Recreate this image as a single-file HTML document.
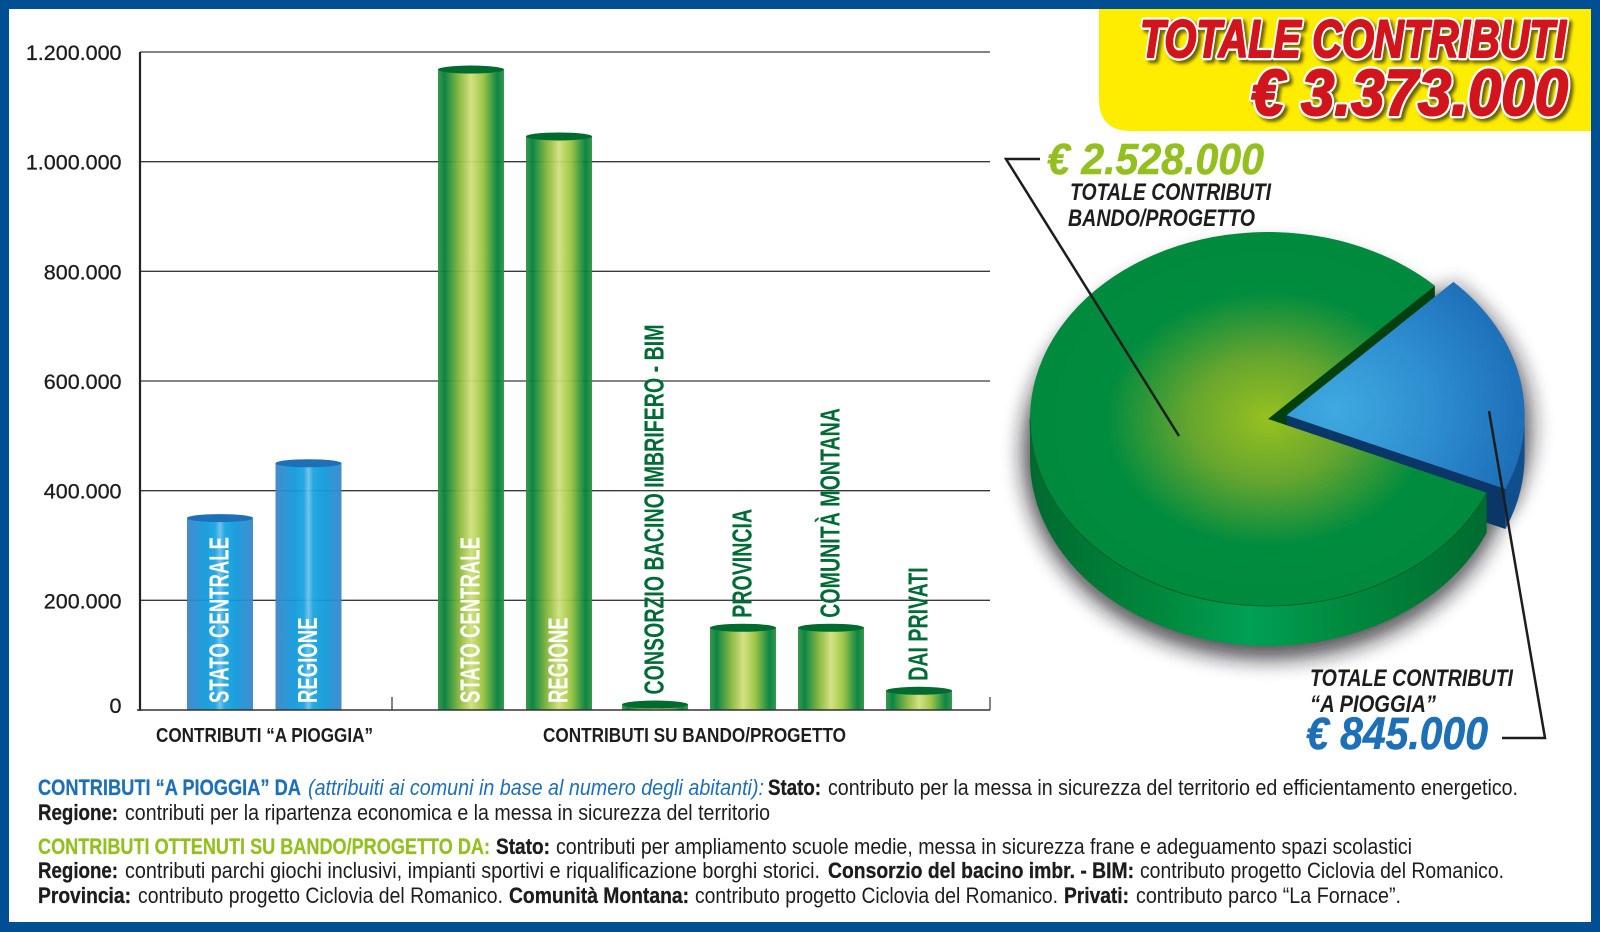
<!DOCTYPE html>
<html lang="it">
<head>
<meta charset="utf-8">
<title>Totale contributi</title>
<style>
html,body{margin:0;padding:0;background:#fff;width:1600px;height:932px;overflow:hidden}
svg{display:block;font-family:"Liberation Sans",Arial,sans-serif}
.b{font-weight:700}
.foot{font-size:22.5px;fill:#1d1d1b}
.foot .b{stroke:currentColor;stroke-width:.25}
</style>
</head>
<body>
<svg id="chart" xmlns="http://www.w3.org/2000/svg" width="1600" height="932" viewBox="0 0 1600 932">
<defs>
<linearGradient id="blueBar" x1="0" x2="1" y1="0" y2="0">
<stop offset="0" stop-color="#3b86cb"/><stop offset=".3" stop-color="#0f9bdc"/><stop offset=".43" stop-color="#1ba4e0"/><stop offset=".5" stop-color="#6cc0ea"/><stop offset=".57" stop-color="#1ba4e0"/><stop offset=".72" stop-color="#0f9bdc"/><stop offset="1" stop-color="#3b86cb"/>
</linearGradient>
<linearGradient id="greenBar" x1="0" x2="1" y1="0" y2="0">
<stop offset="0" stop-color="#2f9440"/><stop offset=".1" stop-color="#007f3c"/><stop offset=".32" stop-color="#86b63a"/><stop offset=".5" stop-color="#cfe07c"/><stop offset=".68" stop-color="#9cc43e"/><stop offset=".9" stop-color="#007f3c"/><stop offset="1" stop-color="#2f9440"/>
</linearGradient>
<radialGradient id="greenTop" gradientUnits="userSpaceOnUse" cx="0" cy="0" r="1" gradientTransform="translate(1268 419) scale(238 187)">
<stop offset="0" stop-color="#97c11f"/><stop offset=".33" stop-color="#66a52f"/><stop offset=".68" stop-color="#008c3f"/><stop offset="1" stop-color="#008a3e"/>
</radialGradient>
<radialGradient id="blueTop" gradientUnits="userSpaceOnUse" cx="0" cy="0" r="1" gradientTransform="translate(1335 410) scale(190 170)">
<stop offset="0" stop-color="#3fa9e0"/><stop offset=".5" stop-color="#2f8fd0"/><stop offset="1" stop-color="#1d6fb8"/>
</radialGradient>
<linearGradient id="greenWall" gradientUnits="userSpaceOnUse" x1="1030" x2="1490" y1="0" y2="0">
<stop offset="0" stop-color="#006a2e"/><stop offset=".3" stop-color="#008a3e"/><stop offset=".48" stop-color="#00a055"/><stop offset=".68" stop-color="#008a3e"/><stop offset="1" stop-color="#006a2e"/>
</linearGradient>
<filter id="pieBlur" filterUnits="userSpaceOnUse" x="950" y="180" width="650" height="540"><feGaussianBlur stdDeviation="10"/></filter>
<filter id="titleShadow" x="-5%" y="-20%" width="110%" height="150%"><feDropShadow dx="3" dy="3" stdDeviation="1.5" flood-color="#5b5200" flood-opacity=".9"/></filter>
</defs>

<rect width="1600" height="932" fill="#004f93"/>
<rect x="9" y="9" width="1582" height="913" fill="#fff"/>
<path d="M1099 9H1591V131H1131Q1099 131 1099 99Z" fill="#ffed00"/>

<g id="bars"></g>
<g id="pie"></g>

<g filter="url(#titleShadow)" font-weight="700" font-style="italic" fill="#fff" stroke="#fff" stroke-width="6.5" stroke-linejoin="round">
<text x="1140" y="57" font-size="53" textLength="426" lengthAdjust="spacingAndGlyphs">TOTALE CONTRIBUTI</text>
<text x="1251" y="115" font-size="65" textLength="317" lengthAdjust="spacingAndGlyphs">€ 3.373.000</text>
</g>
<g font-weight="700" font-style="italic" fill="#d2141c" stroke="#d2141c" stroke-width="2" stroke-linejoin="round">
<text x="1140" y="57" font-size="53" textLength="426" lengthAdjust="spacingAndGlyphs">TOTALE CONTRIBUTI</text>
<text x="1251" y="115" font-size="65" textLength="317" lengthAdjust="spacingAndGlyphs">€ 3.373.000</text>
</g>

<path d="M1040 159H1006L1179 436" fill="none" stroke="#1d1d1b" stroke-width="2.5"/>
<path d="M1489 411L1545 738H1502" fill="none" stroke="#1d1d1b" stroke-width="2.5"/>

<text class="b" font-style="italic" x="1047" y="174" font-size="44" fill="#93c01f" stroke="#93c01f" stroke-width=".6" textLength="217" lengthAdjust="spacingAndGlyphs">€ 2.528.000</text>
<text class="b" font-style="italic" x="1070" y="200" font-size="24" fill="#1d1d1b" textLength="201" lengthAdjust="spacingAndGlyphs">TOTALE CONTRIBUTI</text>
<text class="b" font-style="italic" x="1068" y="226" font-size="24" fill="#1d1d1b" textLength="187" lengthAdjust="spacingAndGlyphs">BANDO/PROGETTO</text>
<text class="b" font-style="italic" x="1310" y="686" font-size="24" fill="#1d1d1b" textLength="203" lengthAdjust="spacingAndGlyphs">TOTALE CONTRIBUTI</text>
<text class="b" font-style="italic" x="1310" y="712" font-size="24" fill="#1d1d1b" textLength="126" lengthAdjust="spacingAndGlyphs">“A PIOGGIA”</text>
<text class="b" font-style="italic" x="1306" y="749" font-size="45" fill="#1d70b7" stroke="#1d70b7" stroke-width=".6" textLength="182" lengthAdjust="spacingAndGlyphs">€ 845.000</text>

<text class="b" x="156" y="742" font-size="20" fill="#1d1d1b" textLength="217" lengthAdjust="spacingAndGlyphs">CONTRIBUTI “A PIOGGIA”</text>
<text class="b" x="543" y="742" font-size="20" fill="#1d1d1b" textLength="303" lengthAdjust="spacingAndGlyphs">CONTRIBUTI SU BANDO/PROGETTO</text>

<g class="foot">
<text class="b" x="38" y="795" fill="#1d70b7" color="#1d70b7" textLength="263" lengthAdjust="spacingAndGlyphs">CONTRIBUTI “A PIOGGIA” DA</text>
<text font-style="italic" x="308" y="795" fill="#1d70b7" textLength="456" lengthAdjust="spacingAndGlyphs">(attribuiti ai comuni in base al numero degli abitanti):</text>
<text class="b" x="768" y="795" textLength="53" lengthAdjust="spacingAndGlyphs">Stato:</text>
<text x="828" y="795" textLength="690" lengthAdjust="spacingAndGlyphs">contributo per la messa in sicurezza del territorio ed efficientamento energetico.</text>
<text class="b" x="38" y="820" textLength="80" lengthAdjust="spacingAndGlyphs">Regione:</text>
<text x="125" y="820" textLength="645" lengthAdjust="spacingAndGlyphs">contributi per la ripartenza economica e la messa in sicurezza del territorio</text>

<text class="b" x="38" y="854" fill="#93c01f" color="#93c01f" textLength="452" lengthAdjust="spacingAndGlyphs">CONTRIBUTI OTTENUTI SU BANDO/PROGETTO DA:</text>
<text class="b" x="496" y="854" textLength="54" lengthAdjust="spacingAndGlyphs">Stato:</text>
<text x="556" y="854" textLength="856" lengthAdjust="spacingAndGlyphs">contributi per ampliamento scuole medie, messa in sicurezza frane e adeguamento spazi scolastici</text>
<text class="b" x="38" y="878" textLength="80" lengthAdjust="spacingAndGlyphs">Regione:</text>
<text x="125" y="878" textLength="695" lengthAdjust="spacingAndGlyphs">contributi parchi giochi inclusivi, impianti sportivi e riqualificazione borghi storici.</text>
<text class="b" x="828" y="878" textLength="306" lengthAdjust="spacingAndGlyphs">Consorzio del bacino imbr. - BIM:</text>
<text x="1140" y="878" textLength="364" lengthAdjust="spacingAndGlyphs">contributo progetto Ciclovia del Romanico.</text>
<text class="b" x="38" y="903" textLength="93" lengthAdjust="spacingAndGlyphs">Provincia:</text>
<text x="138" y="903" textLength="365" lengthAdjust="spacingAndGlyphs">contributo progetto Ciclovia del Romanico.</text>
<text class="b" x="509" y="903" textLength="180" lengthAdjust="spacingAndGlyphs">Comunità Montana:</text>
<text x="695" y="903" textLength="363" lengthAdjust="spacingAndGlyphs">contributo progetto Ciclovia del Romanico.</text>
<text class="b" x="1064" y="903" textLength="65" lengthAdjust="spacingAndGlyphs">Privati:</text>
<text x="1136" y="903" textLength="265" lengthAdjust="spacingAndGlyphs">contributo parco “La Fornace”.</text>
</g>
</svg>

<script>
const pioggiaCategories = ["STATO CENTRALE", "REGIONE"];
const pioggiaValues = [350000, 450000];
const bandoCategories = ["STATO CENTRALE", "REGIONE", "CONSORZIO BACINO IMBRIFERO - BIM", "PROVINCIA", "COMUNITÀ MONTANA", "DAI PRIVATI"];
const bandoValues = [1168000, 1046000, 10000, 150000, 150000, 35000];
const tickValues = [0, 200000, 400000, 600000, 800000, 1000000, 1200000];
const tickLabels = ["0", "200.000", "400.000", "600.000", "800.000", "1.000.000", "1.200.000"];
const pieLabels = ["bando-progetto", "a-pioggia"];
const pieValues = [2528000, 845000];

const NS = "http://www.w3.org/2000/svg";
function mk(parent, tag, attrs, text) {
  const el = document.createElementNS(NS, tag);
  for (const k in attrs) el.setAttribute(k, attrs[k]);
  if (text !== undefined) el.textContent = text;
  parent.appendChild(el);
  return el;
}

/* ---------- bar chart ---------- */
const barsG = document.getElementById("bars");
const axisMax = 1200000, y0 = 710, yTop = 52, barW = 66;
const yScale = v => y0 - (v / axisMax) * (y0 - yTop);
const xPioggia = i => 220 + 88.5 * i;
const xBando = i => 471 + 88 * i + (i >= 2 ? 8 : 0);

tickValues.forEach((t, i) => {
  const y = yScale(t);
  if (t > 0) {
    const g = mk(barsG, "line", {x1: 140, x2: 990, y1: y, y2: y, stroke: "#3a3a3a", "stroke-width": 1.3});
    
    
  }
  const lab = mk(barsG, "text", {x: 121.5, y: t === 0 ? y + 3 : y + 8, "text-anchor": "end", "font-size": 21.5, fill: "#1d1d1b", stroke: "#1d1d1b", "stroke-width": .3}, tickLabels[i]);
  
  
});

function drawBar(cx, value, label, fill, capFill, inactiveColor) {
  const y = yScale(value);
  const body = mk(barsG, "rect", {x: cx - barW / 2, y: y, width: barW, height: y0 - y, fill: fill, "fill-opacity": .95});
  
  
  const cap = mk(barsG, "ellipse", {cx: cx, cy: y, rx: barW / 2, ry: 4, fill: capFill});
  
  
  const inside = value > 300000;
  const ly = inside ? 703 : y - 10;
  const sx = inside ? 0.663 : 0.70;
  const txt = mk(barsG, "text", {
    transform: "translate(" + (cx + 8.5) + " " + ly + ") rotate(-90) scale(" + sx + " 1)",
    "font-size": 28, "font-weight": 700, fill: inside ? "#fff" : inactiveColor
  }, label);
  
  
}
pioggiaValues.forEach((v, i) => drawBar(xPioggia(i), v, pioggiaCategories[i], "url(#blueBar)", "#1d6fb8", "#1d6fb8"));
bandoValues.forEach((v, i) => drawBar(xBando(i), v, bandoCategories[i], "url(#greenBar)", "#006b2e", "#006b35"));

const yAxis = mk(barsG, "line", {x1: 140, x2: 140, y1: yTop, y2: y0 + 1, stroke: "#222", "stroke-width": 2.2});


const xAxis = mk(barsG, "line", {x1: 137, x2: 990, y1: y0, y2: y0, stroke: "#333", "stroke-width": 1.6});


[392, 990].forEach(x => {
  const tk = mk(barsG, "line", {x1: x, x2: x, y1: 697, y2: y0, stroke: "#333", "stroke-width": 1.2});
  
  
});

/* ---------- 3D pie ---------- */
const pieG = document.getElementById("pie");
const rx = 238, ry = 187, depth = 40;
const gc = {x: 1268, y: 419};
const explode = 19;
const perspectiveSweep = 0.762;   /* foreshortening of the tilted pie */
const pieMid = -11.15;
const total = pieValues.reduce((a, b) => a + b, 0);
const blueSweep = pieValues[1] / total * 360 * perspectiveSweep;
const tStart = pieMid - blueSweep / 2, tEnd = pieMid + blueSweep / 2;
const rad = d => d * Math.PI / 180;
const P = (c, t, dy) => ({x: c.x + rx * Math.cos(rad(t)), y: c.y + ry * Math.sin(rad(t)) + (dy || 0)});
const bc = {x: gc.x + explode * Math.cos(rad(pieMid)), y: gc.y + explode * Math.sin(rad(pieMid))};
const pt = p => p.x.toFixed(1) + " " + p.y.toFixed(1);

function arcTo(p, large, sweep) { return "A" + rx + " " + ry + " 0 " + large + " " + sweep + " " + pt(p); }
function wallPath(c, a, b) {
  return "M" + pt(P(c, a)) + arcTo(P(c, b), 0, 1) + "L" + pt(P(c, b, depth)) + arcTo(P(c, a, depth), 0, 0) + "Z";
}
function add(tag, attrs, name) {
  const el = mk(pieG, tag, attrs);
  
  
  return el;
}

add("ellipse", {cx: gc.x, cy: gc.y + depth - 6, rx: rx + 8, ry: ry + 20, fill: "#15121c", opacity: .72, filter: "url(#pieBlur)"}, "pie-shadow");
add("path", {d: "M" + pt(bc) + "L" + pt(P(bc, tStart, 10)) + arcTo(P(bc, tEnd, 14), 0, 1) + "Z", fill: "#15121c", stroke: "#15121c", "stroke-width": 14, opacity: .6, filter: "url(#pieBlur)"}, "pie-blue-shadow");

/* green cut wall behind blue wedge */
const gUp = P(gc, tStart);
add("path", {d: "M" + pt(gc) + "L" + pt(gUp) + "L" + pt(P(gc, tStart, depth)) + "L" + gc.x + " " + (gc.y + depth) + "Z", fill: "#00410f"}, "pie-green-cut-wall");

/* blue wedge walls */
const bEnd = P(bc, tEnd);
add("path", {d: "M" + pt(bc) + "L" + pt(bEnd) + "L" + pt(P(bc, tEnd, depth)) + "L" + bc.x.toFixed(1) + " " + (bc.y + depth).toFixed(1) + "Z", fill: "#0b3768"}, "pie-blue-cut-wall");
add("path", {d: wallPath(bc, Math.max(0, tStart), tEnd), fill: "#0f4f8e"}, "pie-blue-outer-wall");
add("path", {d: "M" + pt(bc) + "L" + pt(P(bc, tStart)) + arcTo(bEnd, 0, 1) + "Z", fill: "url(#blueTop)"}, "pie-slice-a-pioggia");

/* green slice */
add("path", {d: wallPath(gc, tEnd, 90) + wallPath(gc, 90, 180), fill: "url(#greenWall)"}, "pie-green-outer-wall");
add("path", {d: "M" + pt(gc) + "L" + pt(P(gc, tEnd)) + arcTo(P(gc, tStart + 360), 1, 1) + "Z", fill: "url(#greenTop)"}, "pie-slice-bando-progetto");
add("path", {d: "M" + pt(P(gc, tEnd)) + arcTo(P(gc, 180), 0, 1), fill: "none", stroke: "#00602a", "stroke-width": 1}, "pie-green-rim");
</script>
</body>
</html>
